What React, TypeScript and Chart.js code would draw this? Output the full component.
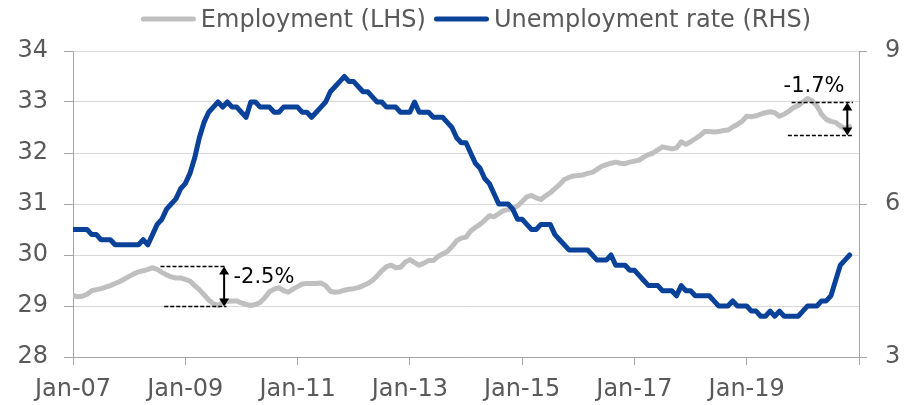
import React, { useEffect, useRef } from 'react';
import { Chart, registerables } from 'chart.js';

Chart.register(...registerables);

// ---------- DATA ----------
const MONTH_NAMES = ['Jan', 'Feb', 'Mar', 'Apr', 'May', 'Jun', 'Jul', 'Aug', 'Sep', 'Oct', 'Nov', 'Dec'];
const FIRST_YEAR = 2007;
const AXIS_END_YEAR = 2021; // axis runs to Jan-21

const categories: string[] = [];
for (let y = FIRST_YEAR; y <= AXIS_END_YEAR; y++) {
  for (let m = 0; m < 12; m++) {
    if (y === AXIS_END_YEAR && m > 0) break;
    categories.push(`${MONTH_NAMES[m]}-${String(y % 100).padStart(2, '0')}`);
  }
}

const TICK_LABELS = ['Jan-07', 'Jan-09', 'Jan-11', 'Jan-13', 'Jan-15', 'Jan-17', 'Jan-19'];

// Employment, millions (LHS), Jan-07 .. Nov-20
const employment = [
  29.21, 29.18, 29.19, 29.23, 29.30, 29.32, 29.34, 29.37, 29.40, 29.44, 29.48, 29.53,
  29.58, 29.63, 29.67, 29.69, 29.72, 29.75, 29.72, 29.66, 29.61, 29.57, 29.55, 29.55,
  29.52, 29.49, 29.40, 29.32, 29.22, 29.12, 29.04, 29.01, 29.07, 29.09, 29.10, 29.10,
  29.06, 29.03, 29.01, 29.03, 29.07, 29.16, 29.28, 29.33, 29.36, 29.30, 29.27, 29.33,
  29.38, 29.43, 29.44, 29.44, 29.44, 29.45, 29.40, 29.29, 29.27, 29.28, 29.31, 29.33,
  29.34, 29.36, 29.40, 29.44, 29.50, 29.59, 29.69, 29.77, 29.80, 29.75, 29.76, 29.86,
  29.91, 29.85, 29.80, 29.84, 29.89, 29.89, 29.97, 30.02, 30.07, 30.16, 30.28, 30.33,
  30.35, 30.47, 30.54, 30.60, 30.68, 30.77, 30.75, 30.81, 30.87, 30.89, 30.91, 30.96,
  31.05, 31.14, 31.17, 31.12, 31.09, 31.16, 31.22, 31.30, 31.38, 31.48, 31.52, 31.55,
  31.56, 31.57, 31.60, 31.62, 31.68, 31.74, 31.77, 31.80, 31.82, 31.80, 31.79, 31.82,
  31.84, 31.86, 31.92, 31.97, 32.00, 32.06, 32.12, 32.10, 32.08, 32.10, 32.22, 32.17,
  32.22, 32.28, 32.34, 32.42, 32.42, 32.41, 32.42, 32.44, 32.45, 32.51, 32.56, 32.62,
  32.72, 32.71, 32.73, 32.76, 32.79, 32.81, 32.79, 32.72, 32.76, 32.82, 32.89, 32.93,
  33.00, 33.07, 33.02, 32.92, 32.76, 32.66, 32.62, 32.60, 32.53, 32.48, 32.52,
];

// Unemployment rate, % (RHS), Jan-07 .. Nov-20
const unemploymentRate = [
  5.5, 5.5, 5.5, 5.5, 5.4, 5.4, 5.3, 5.3, 5.3, 5.2, 5.2, 5.2,
  5.2, 5.2, 5.2, 5.3, 5.2, 5.4, 5.6, 5.7, 5.9, 6.0, 6.1, 6.3,
  6.4, 6.6, 6.9, 7.3, 7.6, 7.8, 7.9, 8.0, 7.9, 8.0, 7.9, 7.9,
  7.8, 7.7, 8.0, 8.0, 7.9, 7.9, 7.9, 7.8, 7.8, 7.9, 7.9, 7.9,
  7.9, 7.8, 7.8, 7.7, 7.8, 7.9, 8.0, 8.2, 8.3, 8.4, 8.5, 8.4,
  8.4, 8.3, 8.2, 8.2, 8.1, 8.0, 8.0, 7.9, 7.9, 7.9, 7.8, 7.8,
  7.8, 8.0, 7.8, 7.8, 7.8, 7.7, 7.7, 7.7, 7.6, 7.5, 7.3, 7.2,
  7.2, 7.0, 6.8, 6.7, 6.5, 6.4, 6.2, 6.0, 6.0, 6.0, 5.9, 5.7,
  5.7, 5.6, 5.5, 5.5, 5.6, 5.6, 5.6, 5.4, 5.3, 5.2, 5.1, 5.1,
  5.1, 5.1, 5.1, 5.0, 4.9, 4.9, 4.9, 5.0, 4.8, 4.8, 4.8, 4.7,
  4.7, 4.6, 4.5, 4.4, 4.4, 4.4, 4.3, 4.3, 4.3, 4.2, 4.4, 4.3,
  4.3, 4.2, 4.2, 4.2, 4.2, 4.1, 4.0, 4.0, 4.0, 4.1, 4.0, 4.0,
  4.0, 3.9, 3.9, 3.8, 3.8, 3.9, 3.8, 3.9, 3.8, 3.8, 3.8, 3.8,
  3.9, 4.0, 4.0, 4.0, 4.1, 4.1, 4.2, 4.5, 4.8, 4.9, 5.0,
];

// Drop annotations, in data units (month index on x, LHS value on y)
const annotations = [
  { text: '-2.5%', top: 29.78, bottom: 29.0, topFrom: 18.7, bottomFrom: 19.5, to: 32.8, arrowAt: 32.3, textAt: 34.3, textBase: 29.46, align: 'left' },
  { text: '-1.7%', top: 33.0, bottom: 32.35, topFrom: 153.6, bottomFrom: 152.8, to: 166.7, arrowAt: 165.5, textAt: 158.4, textBase: 33.2, align: 'center' },
];

// ---------- STYLE ----------
const FONT = '"DejaVu Sans", sans-serif';
const TEXT = '#595959';
const GREY = '#bfbfbf';
const BLUE = '#0a4199';
const AXIS = '#a6a6a6';
const GRID = '#d9d9d9';

const overlayPlugin = {
  id: 'overlay',
  afterDatasetsDraw(chart: any) {
    const ctx = chart.ctx as CanvasRenderingContext2D;
    const xs = chart.scales.x;
    const ys = chart.scales.yL;
    ctx.save();
    for (const a of annotations) {
      const yTop = Math.round(ys.getPixelForValue(a.top)) + 0.5;
      const yBot = Math.round(ys.getPixelForValue(a.bottom)) + 0.5;
      ctx.strokeStyle = '#000';
      ctx.lineWidth = 1.5;
      ctx.setLineDash([4, 2]);
      ctx.beginPath();
      ctx.moveTo(xs.getPixelForValue(a.topFrom), yTop);
      ctx.lineTo(xs.getPixelForValue(a.to), yTop);
      ctx.moveTo(xs.getPixelForValue(a.bottomFrom), yBot);
      ctx.lineTo(xs.getPixelForValue(a.to), yBot);
      ctx.stroke();
      ctx.setLineDash([]);
      // double arrow
      const ax = xs.getPixelForValue(a.arrowAt);
      const hw = 5, hh = 8;
      ctx.lineWidth = 2;
      ctx.beginPath();
      ctx.moveTo(ax, yTop + hh - 1);
      ctx.lineTo(ax, yBot - hh + 1);
      ctx.stroke();
      ctx.fillStyle = '#000';
      ctx.beginPath();
      ctx.moveTo(ax, yTop);
      ctx.lineTo(ax - hw, yTop + hh);
      ctx.lineTo(ax + hw, yTop + hh);
      ctx.closePath();
      ctx.fill();
      ctx.beginPath();
      ctx.moveTo(ax, yBot);
      ctx.lineTo(ax - hw, yBot - hh);
      ctx.lineTo(ax + hw, yBot - hh);
      ctx.closePath();
      ctx.fill();
      // label
      ctx.font = `21px ${FONT}`;
      ctx.textAlign = a.align as CanvasTextAlign;
      ctx.textBaseline = 'alphabetic';
      ctx.fillText(a.text, xs.getPixelForValue(a.textAt), ys.getPixelForValue(a.textBase));
    }
    ctx.restore();
  },
  afterDraw(chart: any) {
    const ctx = chart.ctx as CanvasRenderingContext2D;
    ctx.save();
    ctx.font = `24px ${FONT}`;
    const sample = 55, gapText = 5, gapItem = 8;
    const items = chart.data.datasets.map((d: any) => ({
      label: d.label as string,
      color: d.borderColor as string,
      w: sample + gapText + ctx.measureText(d.label).width,
    }));
    const total = items.reduce((s: number, it: any) => s + it.w, 0) + gapItem * (items.length - 1);
    const center = (chart.chartArea.left + chart.chartArea.right) / 2 + 10;
    let x = center - total / 2;
    const lineY = 19, baseY = 27;
    for (const it of items) {
      ctx.strokeStyle = it.color;
      ctx.lineWidth = 5;
      ctx.lineCap = 'round';
      ctx.beginPath();
      ctx.moveTo(x + 2.5, lineY);
      ctx.lineTo(x + sample - 2.5, lineY);
      ctx.stroke();
      ctx.fillStyle = TEXT;
      ctx.textAlign = 'left';
      ctx.textBaseline = 'alphabetic';
      ctx.fillText(it.label, x + sample + gapText, baseY);
      x += it.w + gapItem;
    }
    ctx.restore();
  },
};

export default function App() {
  const ref = useRef<HTMLCanvasElement>(null);

  useEffect(() => {
    document.body.style.margin = '0';
    const canvas = ref.current;
    if (!canvas) return;
    const chart = new Chart(canvas, {
      type: 'line',
      data: {
        labels: categories,
        datasets: [
          {
            label: 'Employment (LHS)',
            data: employment,
            yAxisID: 'yL',
            borderColor: GREY,
            backgroundColor: GREY,
            borderWidth: 5,
            pointRadius: 0,
            tension: 0,
            borderCapStyle: 'round',
            borderJoinStyle: 'round',
            order: 1,
          },
          {
            label: 'Unemployment rate (RHS)',
            data: unemploymentRate,
            yAxisID: 'yR',
            borderColor: BLUE,
            backgroundColor: BLUE,
            borderWidth: 5,
            pointRadius: 0,
            tension: 0,
            borderCapStyle: 'round',
            borderJoinStyle: 'round',
            order: 0,
          },
        ],
      },
      options: {
        responsive: false,
        animation: false,
        events: [],
        layout: { padding: { top: 51, left: 0, right: 0, bottom: 0 } },
        plugins: {
          legend: { display: false },
          tooltip: { enabled: false },
        },
        scales: {
          x: {
            type: 'category',
            min: categories[0],
            max: categories[categories.length - 1],
            offset: false,
            afterBuildTicks: (scale: any) => {
              scale.ticks = scale.ticks.filter((t: any) => t.value % 24 === 0);
            },
            afterFit: (scale: any) => {
              scale.height = 48;
            },
            grid: {
              drawOnChartArea: false,
              drawTicks: true,
              tickLength: 8,
              tickColor: AXIS,
              tickWidth: 1,
            },
            border: { display: true, color: AXIS, width: 1 },
            ticks: {
              autoSkip: false,
              maxRotation: 0,
              padding: 10,
              color: TEXT,
              font: { family: FONT, size: 24 },
              callback: (value: any) => {
                const lab = categories[value as number];
                return TICK_LABELS.includes(lab) ? lab : '';
              },
            },
          },
          yL: {
            type: 'linear',
            position: 'left',
            min: 28,
            max: 34,
            afterFit: (scale: any) => {
              scale.width = 73;
            },
            grid: {
              color: GRID,
              lineWidth: 1,
              tickLength: 9,
              tickColor: AXIS,
            },
            border: { display: true, color: AXIS, width: 1 },
            ticks: {
              stepSize: 1,
              padding: 16,
              color: TEXT,
              font: { family: FONT, size: 24 },
            },
          },
          yR: {
            type: 'linear',
            position: 'right',
            min: 3,
            max: 9,
            afterFit: (scale: any) => {
              scale.width = 52;
            },
            grid: {
              drawOnChartArea: false,
              tickLength: 8,
              tickColor: AXIS,
            },
            border: { display: true, color: AXIS, width: 1 },
            ticks: {
              stepSize: 3,
              padding: 18,
              color: TEXT,
              font: { family: FONT, size: 24 },
            },
          },
        },
      },
      plugins: [overlayPlugin],
    } as any);
    return () => chart.destroy();
  }, []);

  return (
    <div style={{ width: 911, height: 405, position: 'relative' }}>
      <canvas ref={ref} width={911} height={405} style={{ display: 'block', width: 911, height: 405 }} />
    </div>
  );
}
